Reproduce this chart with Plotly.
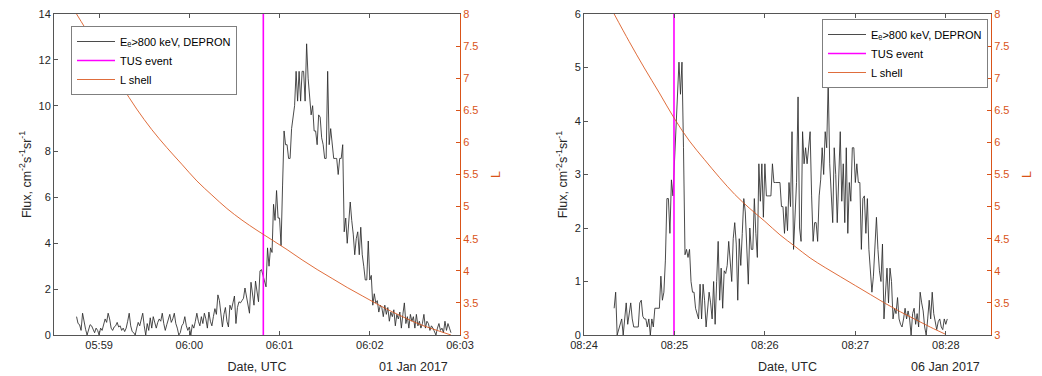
import pandas as pd
import plotly.graph_objects as go

# ---------------- data ----------------
# Left panel: 01 Jan 2017, 1-s DEPRON samples starting 05:58:45
LEFT_START = "2017-01-01 05:58:45"
LEFT_FLUX = [
    0.8, 0.5, 0.45, 0.2, 0.95, 0.55, 0.25, 0.0, 0.2, 0.45,
    0.4, 0.25, 0.1, 0.3, 0.2, 0.0, 0.3, 0.2, 0.5, 0.7,
    0.55, 0.95, 0.7, 0.3, 0.2, 0.35, 0.4, 0.55, 0.35, 0.4,
    0.2, 0.3, 0.15, 0.3, 0.6, 0.95, 0.4, 0.15, 0.1, 0.0,
    0.3, 0.55, 0.4, 0.7, 0.95, 0.4, 0.0, 0.5, 0.2, 0.75,
    0.3, 0.8, 0.6, 0.3, 0.55, 0.7, 0.6, 0.95, 0.5, 0.2,
    0.45, 0.7, 0.9, 0.55, 0.7, 0.95, 0.5, 0.3, 0.0, 0.1,
    0.4, 0.5, 0.8, 0.4, 0.2, 0.35, 0.0, 0.45, 0.3, 0.6,
    0.95, 0.6, 0.4, 0.8, 0.5, 0.95, 0.7, 0.3, 1.0, 0.6,
    0.4, 0.8, 1.15, 0.9, 1.75, 1.5, 1.0, 0.35, 0.9, 1.2,
    0.6, 0.35, 1.3, 1.1, 1.4, 1.7, 0.5, 1.2, 1.45, 1.4,
    1.5, 1.6, 2.05, 1.7, 1.3, 0.95, 2.3, 1.8, 1.3, 2.35,
    1.9, 1.45, 2.8, 2.85, 2.6, 2.4, 2.1, 3.8, 3.0, 3.8,
    3.6, 5.7, 5.0, 6.3, 5.1, 5.1, 3.9, 6.5, 8.9, 8.3,
    8.3, 7.7, 7.7, 9.0, 9.6, 10.0, 11.5, 10.2, 11.5, 10.2,
    11.5, 11.5, 10.2, 12.7, 11.2, 10.2, 9.6, 10.0, 8.9, 8.9,
    8.3, 9.6, 9.5, 8.6, 8.3, 7.7, 7.7, 11.5, 8.3, 9.0,
    8.3, 7.7, 7.7, 7.7, 7.0, 7.7, 7.7, 8.3, 4.5, 5.1,
    4.0, 4.8, 5.8, 5.0, 4.4, 3.5, 4.2, 4.5, 3.5, 4.7,
    3.5, 3.0, 2.4, 2.4, 4.1, 2.4, 2.6, 1.3, 1.8, 1.4,
    1.5, 1.0, 1.3, 1.2, 0.8, 1.3, 0.9, 1.2, 0.6, 1.0,
    0.8, 1.1, 0.4, 0.9, 0.7, 1.0, 0.3, 0.9, 1.4, 0.5,
    0.8, 0.3, 0.9, 0.6, 0.8, 0.3, 0.9, 0.4, 0.6, 0.3,
    0.5, 0.9, 0.3, 0.6, 0.5, 0.2, 0.4, 0.3, 0.1, 0.0,
    0.3, 0.5, 0.2, 0.3, 0.1, 0.6, 0.2, 0.5, 0.3, 0.1,
]
LEFT_L_SEC = [0, 10, 20, 30, 40, 50, 60, 70, 80, 90, 100, 110, 120,
              130, 140, 150, 160, 170, 180, 190, 200, 210, 220, 230, 240, 249]
LEFT_L = [8.0, 7.62, 7.25, 6.88, 6.52, 6.20, 5.92, 5.66, 5.40, 5.18, 4.97,
          4.79, 4.63, 4.48, 4.33, 4.17, 4.02, 3.88, 3.74, 3.61, 3.48, 3.36,
          3.25, 3.15, 3.07, 3.0]
LEFT_TUS = "2017-01-01 06:00:49.2"
LEFT_XRANGE = ["2017-01-01 05:58:30", "2017-01-01 06:03:00"]
LEFT_DATE = "01 Jan 2017"

# Right panel: 06 Jan 2017, 1-s samples starting 08:24:20
RIGHT_START = "2017-01-06 08:24:20"
RIGHT_FLUX = [
    0.5, 0.8, 0.0, 0.1, 0.15, 0.3, 0.0, 0.3, 0.6, 0.2,
    0.4, 0.6, 0.3, 0.15, 0.15, 0.15, 0.15, 0.6, 0.65, 0.35,
    0.3, 0.3, 0.15, 0.3, 0.0, 0.3, 0.15, 0.5, 0.5, 0.5,
    0.5, 1.1, 0.65, 0.8, 1.4, 2.55, 2.55, 1.9, 2.9, 2.6,
    3.2, 4.0, 4.7, 5.1, 4.5, 5.1, 3.5, 1.5, 1.6, 1.45,
    1.6, 1.0, 0.8, 0.8, 0.5, 0.4, 0.3, 0.95, 0.3, 0.95,
    0.65, 0.15, 0.5, 0.8, 0.6, 0.3, 1.0, 0.2, 1.0, 1.75,
    0.65, 1.25, 0.5, 1.2, 1.15, 1.3, 1.75, 1.3, 1.0, 1.8,
    2.1, 1.7, 0.65, 1.8, 1.3, 1.9, 2.55, 2.3, 1.6, 0.95,
    2.0, 1.6, 1.6, 2.55, 1.9, 1.45, 3.2, 2.5, 3.2, 2.2,
    3.2, 2.6, 2.6, 2.6, 2.6, 3.2, 2.85, 2.85, 2.85, 2.85,
    2.85, 2.4, 2.4, 1.9, 2.4, 1.95, 2.85, 2.4, 3.8, 1.6,
    2.4, 2.85, 4.45, 2.0, 1.75, 3.8, 3.2, 3.5, 3.2, 3.5,
    3.8, 2.6, 1.75, 2.1, 2.1, 1.75, 2.6, 2.9, 3.5, 3.0,
    3.8, 3.5, 4.75, 3.2, 2.6, 2.1, 3.5, 3.0, 2.1, 3.2,
    3.8, 2.5, 3.2, 2.1, 3.5, 1.9, 2.85, 2.5, 3.5, 3.5,
    2.85, 3.2, 2.85, 2.85, 1.6, 2.55, 2.6, 1.9, 2.55, 1.6,
    1.2, 0.8, 1.1, 1.8, 2.2, 1.6, 1.2, 1.0, 1.7, 0.3,
    0.8, 1.25, 0.6, 1.25, 1.0, 0.3, 0.5, 0.4, 0.7, 0.3,
    0.2, 0.15, 0.3, 0.5, 0.3, 0.45, 0.3, 0.0, 0.4, 0.5,
    0.2, 0.4, 0.15, 0.8, 0.6, 0.45, 0.15, 0.0, 0.3, 0.65,
    0.3, 0.8, 0.4, 0.2, 0.1, 0.25, 0.3, 0.15, 0.1, 0.3,
    0.2, 0.3,
]
RIGHT_L_SEC = [0, 10, 20, 30, 40, 50, 60, 70, 80, 90, 100, 110, 120,
               130, 140, 150, 160, 170, 180, 190, 200, 210, 220]
RIGHT_L = [8.0, 7.57, 7.16, 6.77, 6.37, 6.02, 5.73, 5.45, 5.19, 4.97, 4.77,
           4.56, 4.38, 4.20, 4.05, 3.91, 3.77, 3.63, 3.49, 3.36, 3.24, 3.12,
           3.01]
RIGHT_TUS = "2017-01-06 08:24:59.7"
RIGHT_XRANGE = ["2017-01-06 08:24:00", "2017-01-06 08:28:30"]
RIGHT_DATE = "06 Jan 2017"

FLUX_RANGE_LEFT = [0, 14]
FLUX_RANGE_RIGHT = [0, 6]
L_RANGE = [3, 8]
L_TICKS = [3, 3.5, 4, 4.5, 5, 5.5, 6, 6.5, 7, 7.5, 8]
L_TICKTEXT = ["3", "3.5", "4", "4.5", "5", "5.5", "6", "6.5", "7", "7.5", "8"]

FLUX_NAME = "E\u2091>800 keV, DEPRON"
TUS_NAME = "TUS event"
L_NAME = "L shell"

# ---------------- styles ----------------
FONT = "Liberation Sans, Arial, Helvetica, sans-serif"
AX = "#262626"
ORANGE = "#D95319"
MAGENTA = "#FF00FF"
FLUX_COLOR = "#2a2a2a"


def times(start, n):
    return pd.date_range(start=start, periods=n, freq="1s")


def sec_times(start, secs):
    return pd.Timestamp(start) + pd.to_timedelta(secs, unit="s")


fig = go.Figure()

panels = [
    dict(start=LEFT_START, flux=LEFT_FLUX, lsec=LEFT_L_SEC, lval=LEFT_L,
         tus=LEFT_TUS, frange=FLUX_RANGE_LEFT, xa="x", ya="y", ya2="y2",
         legend="legend"),
    dict(start=RIGHT_START, flux=RIGHT_FLUX, lsec=RIGHT_L_SEC, lval=RIGHT_L,
         tus=RIGHT_TUS, frange=FLUX_RANGE_RIGHT, xa="x2", ya="y3", ya2="y4",
         legend="legend2"),
]

for p in panels:
    fig.add_trace(go.Scatter(
        x=times(p["start"], len(p["flux"])), y=p["flux"], mode="lines",
        name=FLUX_NAME, line=dict(color=FLUX_COLOR, width=0.85),
        xaxis=p["xa"], yaxis=p["ya"], legend=p["legend"]))
    fig.add_trace(go.Scatter(
        x=[pd.Timestamp(p["tus"])] * 2, y=p["frange"], mode="lines",
        name=TUS_NAME, line=dict(color=MAGENTA, width=1.6),
        xaxis=p["xa"], yaxis=p["ya"], legend=p["legend"]))
    fig.add_trace(go.Scatter(
        x=sec_times(p["start"], p["lsec"]), y=p["lval"], mode="lines",
        name=L_NAME, line=dict(color=ORANGE, width=0.85, shape="spline"),
        xaxis=p["xa"], yaxis=p["ya2"], legend=p["legend"]))

# plot area geometry (margins in px)
ML, MR, MT, MB = 54, 51, 14, 41
W, H = 1042, 376
PW = W - ML - MR
PH = H - MT - MB
left_dom = [0, (460 - ML) / PW]
right_dom = [(584 - ML) / PW, 1]

tickfont = dict(family=FONT, size=11, color=AX)
titlefont = dict(family=FONT, size=12.5, color=AX)


def xaxis(dom, rng, anchor):
    return dict(domain=dom, range=rng, type="date", tickformat="%H:%M",
                dtick=60000, ticks="inside", ticklen=4, tickcolor="#555555",
                showline=True, linecolor="#555555", linewidth=1,
                mirror="ticks", showgrid=False, zeroline=False,
                tickfont=tickfont, anchor=anchor,
                title=dict(text="Date, UTC", font=titlefont, standoff=12))


def yaxis_left(rng, dtick, anchor):
    return dict(domain=[0, 1], range=rng, dtick=dtick, ticks="inside",
                ticklen=4, tickcolor="#555555", showline=True,
                linecolor="#555555", linewidth=1, showgrid=False,
                zeroline=False, tickfont=tickfont, anchor=anchor,
                title=dict(text="Flux, cm<sup>-2</sup>s<sup>-1</sup>sr<sup>-1</sup>",
                           font=titlefont, standoff=4))


def yaxis_right(overlay, anchor):
    return dict(range=L_RANGE, tickvals=L_TICKS, ticktext=L_TICKTEXT,
                overlaying=overlay, side="right", anchor=anchor,
                ticks="inside", ticklen=4, tickcolor=ORANGE, showline=True,
                linecolor=ORANGE, linewidth=1, showgrid=False, zeroline=False,
                tickfont=dict(family=FONT, size=11, color=ORANGE),
                title=dict(text="L", font=dict(family=FONT, size=12.5,
                                               color=ORANGE), standoff=13))


legend_common = dict(bgcolor="white", bordercolor="#7f7f7f", borderwidth=1,
                     font=dict(family=FONT, size=11, color="#000000"),
                     itemwidth=38, tracegroupgap=0,
                     xanchor="left", yanchor="top")

fig.update_layout(
    width=W, height=H,
    margin=dict(l=ML, r=MR, t=MT, b=MB, autoexpand=False),
    paper_bgcolor="white", plot_bgcolor="white",
    font=dict(family=FONT, color=AX),
    showlegend=True,
    xaxis=xaxis(left_dom, LEFT_XRANGE, "y"),
    xaxis2=xaxis(right_dom, RIGHT_XRANGE, "y3"),
    yaxis=yaxis_left(FLUX_RANGE_LEFT, 2, "x"),
    yaxis2=yaxis_right("y", "x"),
    yaxis3=yaxis_left(FLUX_RANGE_RIGHT, 1, "x2"),
    yaxis4=yaxis_right("y3", "x2"),
    legend=dict(x=(71 - ML) / PW, y=1 - (26 - MT) / PH, **legend_common),
    legend2=dict(x=(822 - ML) / PW, y=1 - (19 - MT) / PH, **legend_common),
    annotations=[
        dict(text=LEFT_DATE, xref="paper", yref="paper",
             x=(413 - ML) / PW, y=0, yshift=-32, xanchor="center",
             yanchor="middle", showarrow=False, font=titlefont),
        dict(text=RIGHT_DATE, xref="paper", yref="paper",
             x=(945 - ML) / PW, y=0, yshift=-32, xanchor="center",
             yanchor="middle", showarrow=False, font=titlefont),
    ],
)

fig.write_html("out.html")
